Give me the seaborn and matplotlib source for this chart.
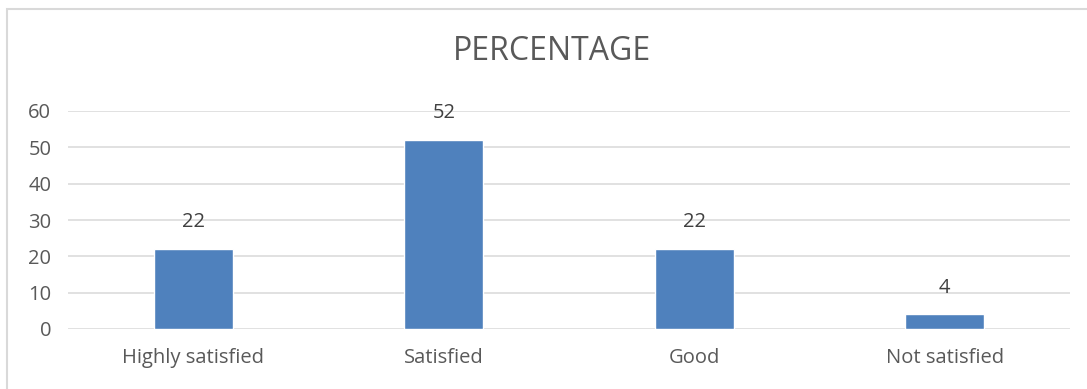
import matplotlib
matplotlib.use("Agg")
import matplotlib.pyplot as plt
import matplotlib.patches as mpatches
import seaborn as sns
import pandas as pd

categories = ["Highly satisfied", "Satisfied", "Good", "Not satisfied"]
percentages = [22, 52, 22, 4]
y_ticks = [0, 10, 20, 30, 40, 50, 60]

sns.set_theme(style="white")
plt.rcParams["font.family"] = ["Open Sans", "DejaVu Sans"]

TEXT = "#595959"
BAR = "#4F81BD"
GRID = "#D9D9D9"

df = pd.DataFrame({"category": categories, "value": percentages})

fig = plt.figure(figsize=(10.87, 3.89), dpi=100)
ax = fig.add_axes([68 / 1087, 1 - 329 / 389, (1070 - 68) / 1087, (329 - 111) / 389])

sns.barplot(data=df, x="category", y="value", order=categories, color=BAR,
            width=0.315, saturation=1, ax=ax)

ax.set_ylim(0, 60)
ax.set_yticks(y_ticks)
ax.set_xlim(-0.5, len(categories) - 0.5)
for y in y_ticks:
    ax.axhline(y, color=GRID, lw=1.1, zorder=0)
for s in ax.spines.values():
    s.set_visible(False)
ax.set_xlabel("")
ax.set_ylabel("")
ax.tick_params(axis="both", length=0, colors=TEXT, labelsize=14.5)
ax.tick_params(axis="y", pad=12)
ax.tick_params(axis="x", pad=14)
for lbl in ax.get_xticklabels() + ax.get_yticklabels():
    lbl.set_fontweight("medium")

for container in ax.containers:
    ax.bar_label(container, labels=[str(v) for v in percentages], padding=12,
                 color="#404040", fontsize=14.5, fontweight="medium")

fig.text(552 / 1087, 1 - 52 / 389, "PERCENTAGE", ha="center", va="center",
         color=TEXT, fontsize=23)

# chart-area frame
fig.patches.append(mpatches.Rectangle((7 / 1087, -0.1), 1.2, 1.1 - 9 / 389,
                                      transform=fig.transFigure, fill=False,
                                      edgecolor="#D9D9D9", lw=1.5))

fig.savefig("out.png", dpi=100, facecolor="white")
